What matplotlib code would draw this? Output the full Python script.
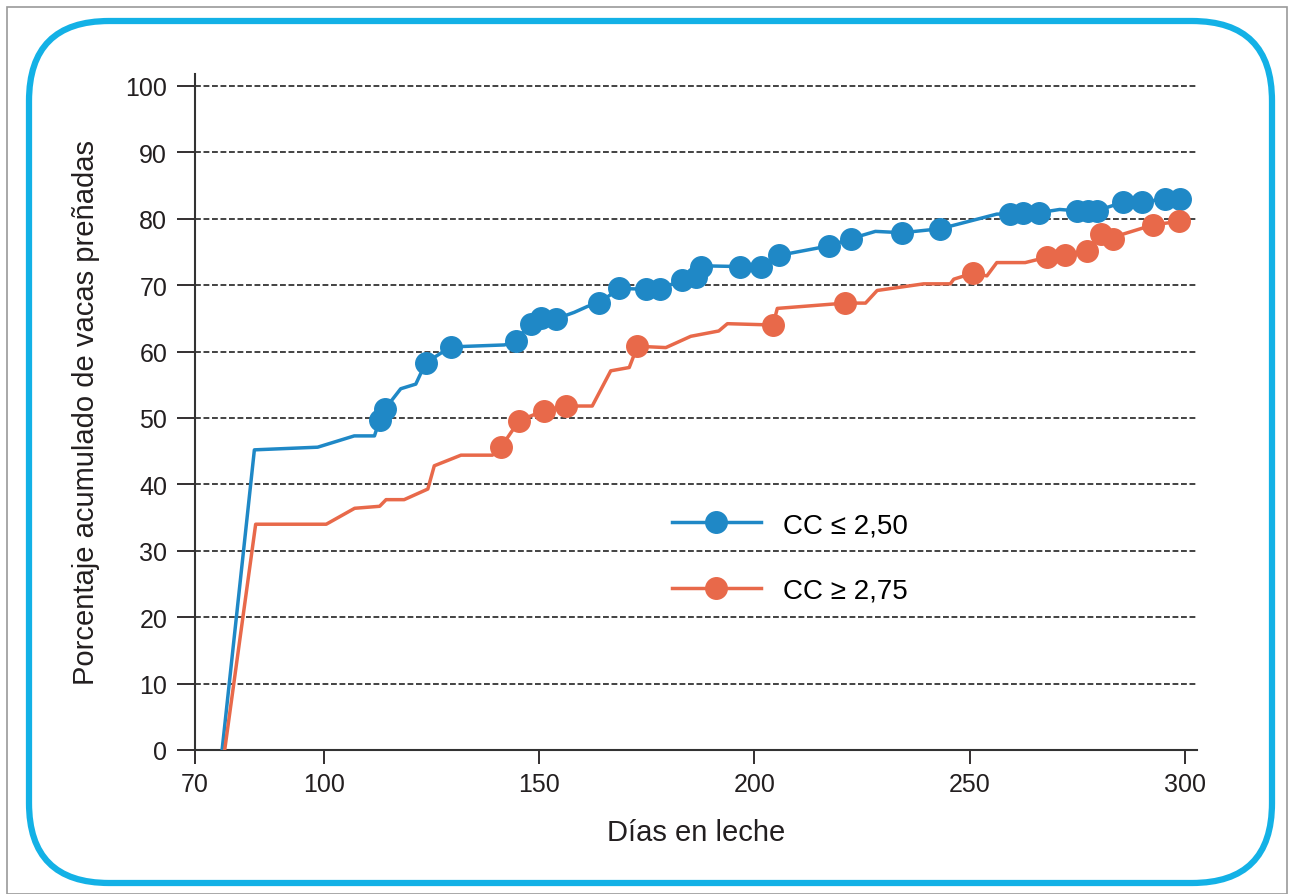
import matplotlib
matplotlib.use("Agg")
import matplotlib.pyplot as plt
from matplotlib.patches import FancyBboxPatch, Rectangle

plt.rcParams['font.family'] = ['Liberation Sans', 'DejaVu Sans']

# CC <= 2,50 : line vertices and marked points
bajo_x = [76.3, 83.8, 98.5, 107.0, 111.7, 112.9, 114.2, 117.8, 121.3, 123.6, 129.4, 141.9,
          144.5, 148.0, 150.3, 153.8, 158.1, 161.2, 163.9, 168.5, 174.7, 178.0, 183.2, 186.3,
          187.5, 189.0, 196.7, 201.4, 205.8, 217.2, 222.4, 228.1, 234.3, 243.2, 256.3, 259.4,
          262.5, 266.0, 270.9, 274.9, 277.6, 279.5, 285.7, 290.0, 295.4, 298.9]
bajo_y = [0.0, 45.2, 45.6, 47.3, 47.3, 49.7, 51.4, 54.4, 55.1, 58.3, 60.7, 61.0,
          61.6, 64.2, 65.0, 64.9, 65.9, 66.8, 67.3, 69.5, 69.4, 69.4, 70.8, 71.2,
          72.7, 72.9, 72.8, 72.8, 74.5, 75.9, 77.0, 78.1, 77.9, 78.5, 80.7, 80.7,
          80.9, 80.9, 81.4, 81.2, 81.2, 81.2, 82.5, 82.5, 83.0, 83.0]
bajo_mx = [112.9, 114.2, 123.6, 129.4, 144.5, 148.0, 150.3, 153.8, 163.9, 168.5, 174.7,
           178.0, 183.2, 186.3, 187.5, 196.7, 201.4, 205.8, 217.2, 222.4, 234.3, 243.2,
           259.4, 262.5, 266.0, 274.9, 277.6, 279.5, 285.7, 290.0, 295.4, 298.9]
bajo_my = [49.7, 51.4, 58.3, 60.7, 61.6, 64.2, 65.0, 64.9, 67.3, 69.5, 69.4,
           69.4, 70.8, 71.2, 72.7, 72.8, 72.8, 74.5, 75.9, 77.0, 77.9, 78.5,
           80.7, 80.9, 80.9, 81.2, 81.2, 81.2, 82.5, 82.5, 83.0, 83.0]

# CC >= 2,75
alto_x = [76.9, 84.1, 100.5, 107.1, 112.9, 114.4, 118.6, 124.1, 125.6, 131.8, 139.1, 141.1,
          145.3, 151.1, 156.1, 162.3, 166.6, 170.9, 172.8, 179.4, 185.2, 191.7, 193.7, 204.3,
          205.3, 221.1, 225.8, 228.5, 239.3, 245.5, 246.3, 250.7, 254.0, 256.3, 262.9, 267.9,
          272.2, 277.3, 280.4, 283.2, 285.7, 292.7, 298.7]
alto_y = [0.0, 34.0, 34.0, 36.4, 36.7, 37.7, 37.7, 39.3, 42.8, 44.4, 44.4, 45.6,
          49.6, 51.1, 51.8, 51.8, 57.1, 57.6, 60.8, 60.6, 62.3, 63.1, 64.2, 64.0,
          66.5, 67.3, 67.3, 69.2, 70.2, 70.2, 70.9, 71.8, 71.4, 73.4, 73.4, 74.2,
          74.5, 75.2, 77.7, 77.0, 77.7, 79.1, 79.6]
alto_mx = [141.1, 145.3, 151.1, 156.1, 172.8, 204.3, 221.1, 250.7, 267.9, 272.2, 277.3,
           280.4, 283.2, 292.7, 298.7]
alto_my = [45.6, 49.6, 51.1, 51.8, 60.8, 64.0, 67.3, 71.8, 74.2, 74.5, 75.2,
           77.7, 77.0, 79.1, 79.6]

x_ticks = [70, 100, 150, 200, 250, 300]
y_ticks = list(range(0, 101, 10))

azul = '#1f88c6'
naranja = '#e8694a'

fig = plt.figure(figsize=(12.93, 8.95), dpi=100)
ax = fig.add_axes([0.1508, 0.1609, 0.7749, 0.7553])

for yv in y_ticks[1:]:
    ax.axhline(yv, color='#222222', lw=1.2, ls=(0, (3.5, 1.6)), zorder=1)

ax.plot(bajo_x, bajo_y, color=azul, lw=2.5, zorder=3)
ax.plot(bajo_mx, bajo_my, 'o', color=azul, ms=15.5, zorder=4)
ax.plot(alto_x, alto_y, color=naranja, lw=2.5, zorder=3)
ax.plot(alto_mx, alto_my, 'o', color=naranja, ms=15.5, zorder=4)

# legend handles
ax.plot([], [], '-o', color=azul, lw=2.5, ms=15.5, label='CC ≤ 2,50')
ax.plot([], [], '-o', color=naranja, lw=2.5, ms=15.5, label='CC ≥ 2,75')
ax.legend(frameon=False, loc='upper left', bbox_to_anchor=(0.451, 0.389),
          fontsize=20, handlelength=3.2, labelspacing=1.42, handletextpad=0.8)

ax.set_xlim(70, 302.8)
ax.set_ylim(0, 101.8)
ax.set_xticks(x_ticks)
ax.set_yticks(y_ticks)
ax.tick_params(axis='y', direction='out', length=13, width=1.3, pad=7,
               labelsize=18, colors='#231f20')
ax.tick_params(axis='x', direction='out', length=10, width=1.3, pad=6,
               labelsize=18, colors='#231f20')
for s in ['top', 'right']:
    ax.spines[s].set_visible(False)
for s in ['left', 'bottom']:
    ax.spines[s].set_color('#333333')
    ax.spines[s].set_linewidth(1.5)

ax.set_xlabel('Días en leche', fontsize=21, color='#231f20', labelpad=16)
ax.set_ylabel('Porcentaje acumulado de vacas preñadas', fontsize=21,
              color='#231f20', labelpad=18)

# frames
fig.add_artist(Rectangle((7, 0), 1280, 887, transform=None, fill=False,
                         edgecolor='#9a9a9a', lw=1.2))
fig.add_artist(FancyBboxPatch((29, 11), 1243, 862, transform=None,
                              boxstyle='round,pad=0,rounding_size=80',
                              fill=False, edgecolor='#13b1e6', lw=4.5))

fig.savefig('out.png', dpi=100)
